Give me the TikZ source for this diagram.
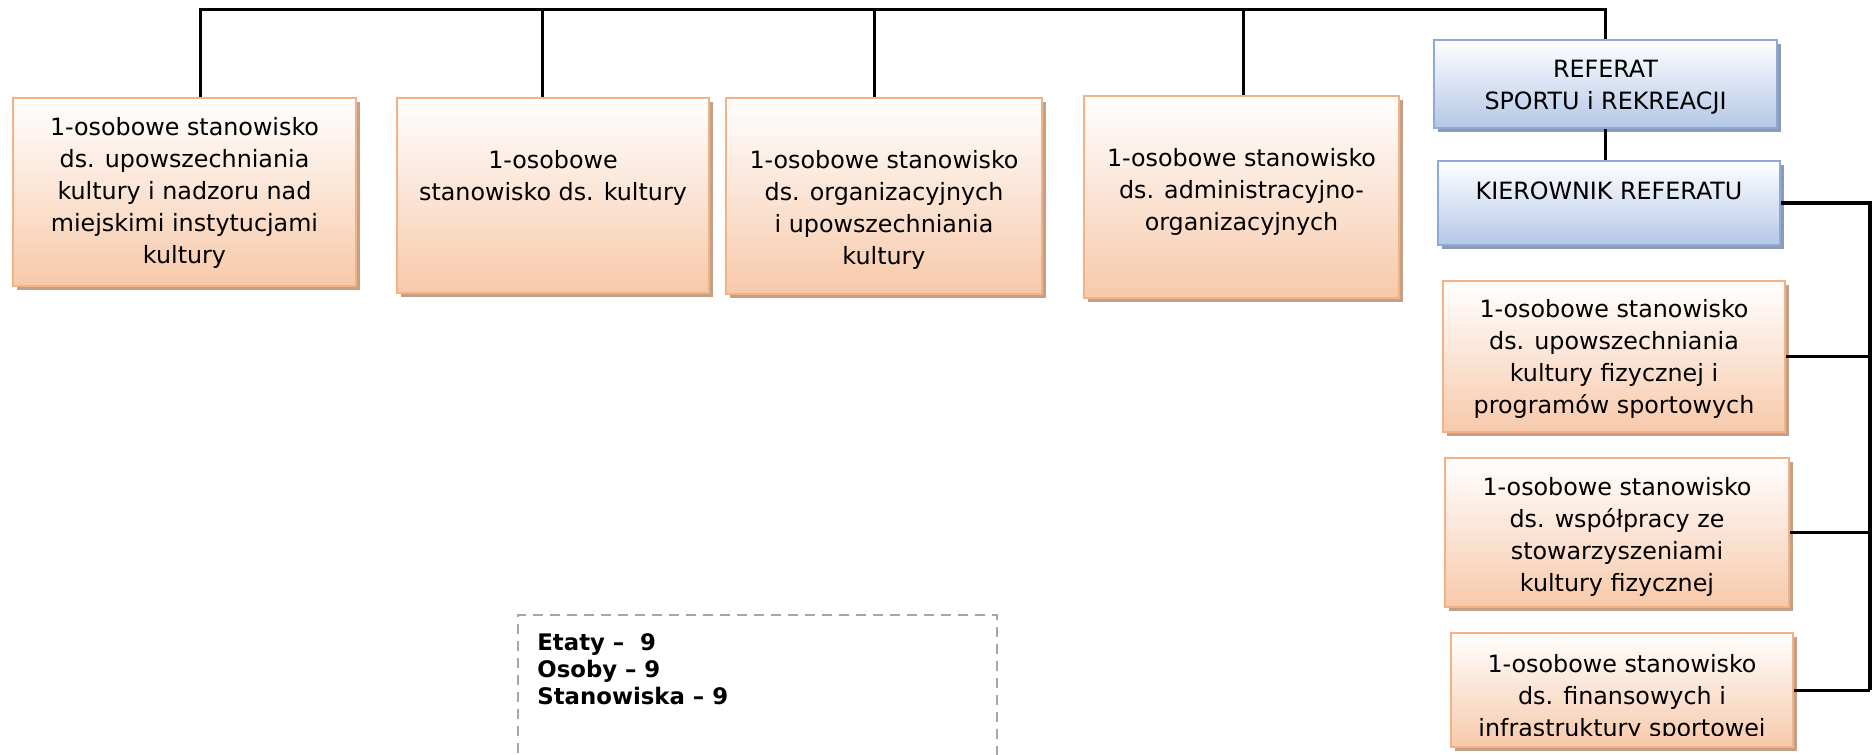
\documentclass[tikz,border=0pt]{standalone}
\usepackage{fontspec}
\setmainfont{DejaVu Sans}
\usetikzlibrary{shadows}
\definecolor{stanline}{HTML}{F4B183}
\definecolor{stanfill}{HTML}{F7C9AA}
\definecolor{stanshade}{HTML}{C3A088}
\definecolor{refline}{HTML}{8EAADB}
\definecolor{reffill}{HTML}{B4C7E7}
\definecolor{refshade}{HTML}{8E9AAF}
\definecolor{kreska}{HTML}{A6A6A6}
\begin{document}
\begin{tikzpicture}[x=0.5pt,y=-0.5pt]
	\tikzstyle{ramka}=[inner sep=0pt,line width=1.2pt];
	\tikzstyle{stan}=[ramka,draw=stanline,top color=white,bottom color=stanfill,
		drop shadow={shadow xshift=2pt,shadow yshift=-2pt,fill=stanshade,opacity=1}];
	\tikzstyle{refbox}=[ramka,draw=refline,top color=white,bottom color=reffill,
		drop shadow={shadow xshift=2pt,shadow yshift=-2pt,fill=refshade,opacity=1}];
	\tikzstyle{napis}=[align=center,inner sep=0pt,anchor=north,font=\fontsize{11.9}{16}\selectfont];
	\tikzstyle{linia}=[line width=1.5pt];
	\useasboundingbox (0,0) rectangle (1876,755);
	%% Stanowiska
	\node[stan,minimum width=171.5pt,minimum height=94pt]   (b1) at (184.5,192)  {};
	\node[stan,minimum width=156pt,minimum height=97.5pt]   (b2) at (553,195.5)  {};
	\node[stan,minimum width=158pt,minimum height=98pt]     (b3) at (884,196)    {};
	\node[stan,minimum width=157.5pt,minimum height=101pt]  (b4) at (1241.5,197) {};
	%% Referat
	\node[refbox,minimum width=171.5pt,minimum height=44pt] (ref)  at (1605.5,84) {};
	\node[refbox,minimum width=171pt,minimum height=42pt]   (kier) at (1609,203)  {};
	\node[stan,minimum width=171pt,minimum height=75.5pt]   (r1) at (1614,356.5) {};
	\node[stan,minimum width=172pt,minimum height=74.5pt]   (r2) at (1617,532.5) {};
	\node[stan,minimum width=171pt,minimum height=57pt]     (r3) at (1622,690)   {};
	%% Texts
	\node[napis] (t1) at (184.5,117) {1-osobowe stanowisko\\ds. upowszechniania\\kultury i nadzoru nad\\miejskimi instytucjami\\kultury};
	\node[napis] (t2) at (553,150) {1-osobowe\\stanowisko ds. kultury};
	\node[napis] (t3) at (884,150) {1-osobowe stanowisko\\ds. organizacyjnych\\i upowszechniania\\kultury};
	\node[napis] (t4) at (1241.5,148) {1-osobowe stanowisko\\ds. administracyjno-\\organizacyjnych};
	\node[napis] (tref) at (1605.5,59.5) {REFERAT\\SPORTU i REKREACJI};
	\node[napis] (tkier) at (1609,181.5) {KIEROWNIK REFERATU};
	\node[napis] (tr1) at (1614,299) {1-osobowe stanowisko\\ds. upowszechniania\\kultury fizycznej i\\programów sportowych};
	\node[napis] (tr2) at (1617,477) {1-osobowe stanowisko\\ds. współpracy ze\\stowarzyszeniami\\kultury fizycznej};
	\begin{scope}
		\clip (r3.north west) rectangle (1800,735);
		\node[napis] (tr3) at (1622,654) {1-osobowe stanowisko\\ds. finansowych i\\infrastruktury sportowej};
	\end{scope}
	%% Lines
	\draw[linia] (b1.north -| 200,0) -- (200,9) -| (ref.north);
	\foreach \n/\x in {b2/542,b3/874,b4/1243}
		\draw[linia] (\n.north -| \x,0) -- (\x,9);
	\draw[linia] (ref.south) -- (ref.south |- kier.north);
	\coordinate (szyna) at (1870,0);
	\draw[linia,line width=1.7pt] (kier.east) -- (kier.east -| szyna) -- (r3.east -| szyna);
	\foreach \n in {r1,r2,r3}
		\draw[linia] (\n.east) -- (\n.east -| szyna);
	%% Etaty
	\draw[kreska,line width=1.2pt,dash pattern=on 5pt off 3.5pt]
		(518,770) -- (518,615) -- (997,615) -- (997,770);
	\node[anchor=north west,align=left,inner sep=0pt,font=\bfseries\fontsize{11.4}{13.5}\selectfont]
		(etaty) at (537,633.5) {Etaty –\ \ 9\\Osoby – 9\\Stanowiska – 9};
\end{tikzpicture}
\end{document}
